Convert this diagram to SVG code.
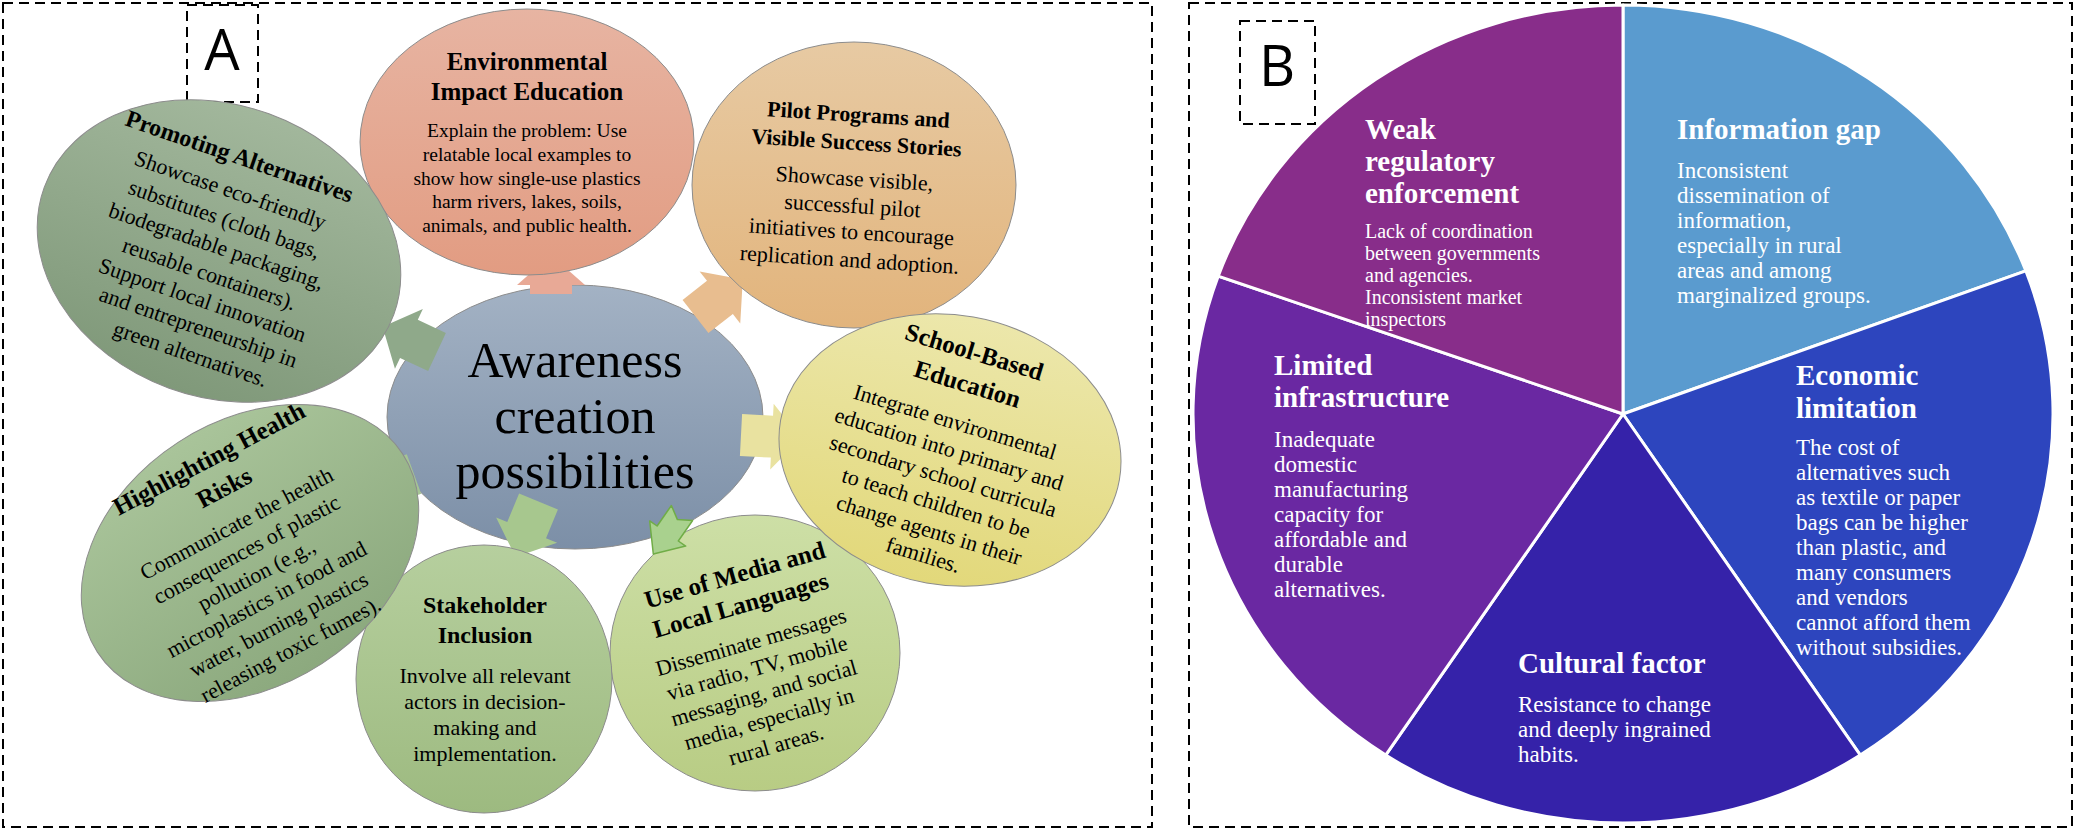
<svg xmlns="http://www.w3.org/2000/svg" width="2075" height="831" viewBox="0 0 2075 831">
<defs>
<style>
.f{font-family:"Liberation Serif","Times New Roman",serif;fill:#000;}
.h{font-weight:bold;}
.m{text-anchor:middle;}
.w{fill:#fff;}
.dash{fill:none;stroke:#000;stroke-width:2;stroke-dasharray:10 6;}
.lbl{font-family:"Open Sans","Liberation Sans",sans-serif;font-size:56px;fill:#000;text-anchor:middle;}
.node{stroke:#8c8c8c;stroke-width:1;}
.slice{stroke:#fff;stroke-width:3;stroke-linejoin:round;}
</style>
<linearGradient id="gCen" x1="0" y1="0" x2="0" y2="1"><stop offset="0" stop-color="#A3B2C4"/><stop offset="1" stop-color="#7C8FA7"/></linearGradient>
<linearGradient id="gEnv" x1="0" y1="0" x2="0" y2="1"><stop offset="0" stop-color="#E7B4A2"/><stop offset="1" stop-color="#E29C82"/></linearGradient>
<linearGradient id="gPil" x1="0" y1="0" x2="0" y2="1"><stop offset="0" stop-color="#E7CAA3"/><stop offset="1" stop-color="#E2B47C"/></linearGradient>
<linearGradient id="gSch" x1="0" y1="0" x2="0" y2="1"><stop offset="0" stop-color="#ECE7AB"/><stop offset="1" stop-color="#E2D87A"/></linearGradient>
<linearGradient id="gMed" x1="0" y1="0" x2="0" y2="1"><stop offset="0" stop-color="#CDDFA6"/><stop offset="1" stop-color="#B8CC84"/></linearGradient>
<linearGradient id="gSta" x1="0" y1="0" x2="0" y2="1"><stop offset="0" stop-color="#B6CF9E"/><stop offset="1" stop-color="#9DBA80"/></linearGradient>
<linearGradient id="gHig" x1="0" y1="0" x2="0" y2="1"><stop offset="0" stop-color="#A9C49A"/><stop offset="1" stop-color="#8CA97E"/></linearGradient>
<linearGradient id="gPro" x1="0" y1="0" x2="0" y2="1"><stop offset="0" stop-color="#A2B79C"/><stop offset="1" stop-color="#80997A"/></linearGradient>
<polygon id="arw" points="0,-21 31,-21 31,-33 60,0 31,33 31,21 0,21"/>
</defs>

<rect width="2075" height="831" fill="#fff"/>

<g id="panel-A-frame">
<rect class="dash" x="3" y="3" width="1149" height="824"/>
<rect class="dash" x="187" y="5" width="71" height="97"/>
<text class="lbl" x="222" y="70">A</text>
</g>

<g id="node-center">
<ellipse class="node" cx="575" cy="417" rx="188" ry="132" fill="url(#gCen)"/>
<text class="f m" font-size="50"><tspan x="575" y="377">Awareness</tspan><tspan x="575" y="433">creation</tspan><tspan x="575" y="488">possibilities</tspan></text>
</g>

<g id="node-media">
<ellipse class="node" cx="755" cy="653" rx="145" ry="138" fill="url(#gMed)"/>
<g class="f m">
<text class="h" font-size="25" transform="translate(737 583) rotate(-16)">Use of Media and</text>
<text class="h" font-size="25" transform="translate(743 613) rotate(-16)">Local Languages</text>
<text font-size="22" transform="translate(753 649) rotate(-16)">Disseminate messages</text>
<text font-size="22" transform="translate(759 675) rotate(-16)">via radio, TV, mobile</text>
<text font-size="22" transform="translate(766 700) rotate(-16)">messaging, and social</text>
<text font-size="22" transform="translate(771 726) rotate(-16)">media, especially in</text>
<text font-size="22" transform="translate(778 752) rotate(-16)">rural areas.</text>
</g>
</g>

<g id="connectors">
<polygon points="530,294 572,294 572,285 585,285 551,255 517,285 530,285" fill="#E8A996"/>
<use href="#arw" transform="translate(695.5 316.5) rotate(-38)" fill="#E8BD8F"/>
<use href="#arw" transform="translate(741 435) rotate(3)" fill="#E9E2A0"/>
<use href="#arw" transform="translate(538.5 501.5) rotate(112.5)" fill="#A7C78E"/>
<use href="#arw" transform="translate(414 474) rotate(160)" fill="#A5C394"/>
<use href="#arw" transform="translate(437 352) rotate(-155)" fill="#8FA98A"/>
<polygon points="671.4,505.5 677.4,519.6 692.6,520.5 678.3,541 685.7,546.1 653.3,554 649.7,520.9 657.1,526" fill="#A9D18E" stroke="#70AD47" stroke-width="1.5" stroke-linejoin="round"/>
</g>

<g id="node-environmental">
<ellipse class="node" cx="527" cy="142" rx="167" ry="133" fill="url(#gEnv)"/>
<text class="f m h" font-size="25"><tspan x="527" y="70">Environmental</tspan><tspan x="527" y="100">Impact Education</tspan></text>
<text class="f m" font-size="19.5"><tspan x="527" y="137">Explain the problem: Use</tspan><tspan x="527" y="161">relatable local examples to</tspan><tspan x="527" y="185">show how single-use plastics</tspan><tspan x="527" y="208">harm rivers, lakes, soils,</tspan><tspan x="527" y="232">animals, and public health.</tspan></text>
</g>

<g id="node-pilot">
<ellipse class="node" cx="854" cy="185" rx="162" ry="143" fill="url(#gPil)"/>
<g class="f m">
<text class="h" font-size="22" transform="translate(858 122) rotate(3.6)">Pilot Programs and</text>
<text class="h" font-size="22" transform="translate(856 150) rotate(3.6)">Visible Success Stories</text>
<text font-size="22" transform="translate(854 186) rotate(3.6)">Showcase visible,</text>
<text font-size="22" transform="translate(852 213) rotate(3.6)">successful pilot</text>
<text font-size="22" transform="translate(851 239) rotate(3.6)">initiatives to encourage</text>
<text font-size="22" transform="translate(849 267) rotate(3.6)">replication and adoption.</text>
</g>
</g>

<g id="node-school">
<ellipse class="node" cx="950" cy="450" rx="172" ry="135" transform="rotate(10 950 450)" fill="url(#gSch)"/>
<g class="f m">
<text class="h" font-size="25" transform="translate(972 360) rotate(17)">School-Based</text>
<text class="h" font-size="25" transform="translate(965 392) rotate(17)">Education</text>
<text font-size="22" transform="translate(953 429) rotate(17)">Integrate environmental</text>
<text font-size="22" transform="translate(947 456) rotate(17)">education into primary and</text>
<text font-size="22" transform="translate(941 483) rotate(17)">secondary school curricula</text>
<text font-size="22" transform="translate(934 510) rotate(17)">to teach children to be</text>
<text font-size="22" transform="translate(927 537) rotate(17)">change agents in their</text>
<text font-size="22" transform="translate(921 562) rotate(17)">families.</text>
</g>
</g>

<g id="node-stakeholder">
<ellipse class="node" cx="484" cy="679" rx="128" ry="134" fill="url(#gSta)"/>
<text class="f m h" font-size="24"><tspan x="485" y="613">Stakeholder</tspan><tspan x="485" y="643">Inclusion</tspan></text>
<text class="f m" font-size="22"><tspan x="485" y="683">Involve all relevant</tspan><tspan x="485" y="709">actors in decision-</tspan><tspan x="485" y="735">making and</tspan><tspan x="485" y="761">implementation.</tspan></text>
</g>

<g id="node-health">
<ellipse class="node" cx="250" cy="553" rx="182" ry="132" transform="rotate(-33 250 553)" fill="url(#gHig)"/>
<g class="f m">
<text class="h" font-size="25" transform="translate(213 466) rotate(-28)">Highlighting Health</text>
<text class="h" font-size="25" transform="translate(228 495) rotate(-28)">Risks</text>
<text font-size="22" transform="translate(240 530) rotate(-28)">Communicate the health</text>
<text font-size="22" transform="translate(250 556) rotate(-28)">consequences of plastic</text>
<text font-size="22" transform="translate(260 581) rotate(-28)">pollution (e.g.,</text>
<text font-size="22" transform="translate(270 606) rotate(-28)">microplastics in food and</text>
<text font-size="22" transform="translate(282 631) rotate(-28)">water, burning plastics</text>
<text font-size="22" transform="translate(294 656) rotate(-28)">releasing toxic fumes).</text>
</g>
</g>

<g id="node-alternatives">
<ellipse class="node" cx="219" cy="251" rx="186" ry="146" transform="rotate(20 219 251)" fill="url(#gPro)"/>
<g class="f m">
<text class="h" font-size="24" transform="translate(237 164) rotate(19)">Promoting Alternatives</text>
<text font-size="22" transform="translate(228 197) rotate(19)">Showcase eco-friendly</text>
<text font-size="22" transform="translate(222 226) rotate(19)">substitutes (cloth bags,</text>
<text font-size="22" transform="translate(214 253) rotate(19)">biodegradable packaging,</text>
<text font-size="22" transform="translate(207 281) rotate(19)">reusable containers).</text>
<text font-size="22" transform="translate(200 307) rotate(19)">Support local innovation</text>
<text font-size="22" transform="translate(196 334) rotate(19)">and entrepreneurship in</text>
<text font-size="22" transform="translate(188 361) rotate(19)">green alternatives.</text>
</g>
</g>

<g id="panel-B-frame">
<rect class="dash" x="1189" y="3" width="883" height="824"/>
</g>

<g id="slice-information">
<path class="slice" d="M1623,414 L1623,5 A430,409 0 0 1 2025.8,270.8 Z" fill="#5A9BCF"/>
<text class="f w h" font-size="29" x="1677" y="139">Information gap</text>
<text class="f w" font-size="23"><tspan x="1677" y="178">Inconsistent</tspan><tspan x="1677" y="203">dissemination of</tspan><tspan x="1677" y="228">information,</tspan><tspan x="1677" y="253">especially in rural</tspan><tspan x="1677" y="278">areas and among</tspan><tspan x="1677" y="303">marginalized groups.</tspan></text>
</g>

<g id="slice-economic">
<path class="slice" d="M1623,414 L2025.8,270.8 A430,409 0 0 1 1860.3,755.1 Z" fill="#2D45BE"/>
<text class="f w h" font-size="29"><tspan x="1796" y="385">Economic</tspan><tspan x="1796" y="418">limitation</tspan></text>
<text class="f w" font-size="23"><tspan x="1796" y="455">The cost of</tspan><tspan x="1796" y="480">alternatives such</tspan><tspan x="1796" y="505">as textile or paper</tspan><tspan x="1796" y="530">bags can be higher</tspan><tspan x="1796" y="555">than plastic, and</tspan><tspan x="1796" y="580">many consumers</tspan><tspan x="1796" y="605">and vendors</tspan><tspan x="1796" y="630">cannot afford them</tspan><tspan x="1796" y="655">without subsidies.</tspan></text>
</g>

<g id="slice-cultural">
<path class="slice" d="M1623,414 L1860.3,755.1 A430,409 0 0 1 1385.7,755.1 Z" fill="#3522A9"/>
<text class="f w h" font-size="29" x="1518" y="673">Cultural factor</text>
<text class="f w" font-size="23"><tspan x="1518" y="712">Resistance to change</tspan><tspan x="1518" y="737">and deeply ingrained</tspan><tspan x="1518" y="762">habits.</tspan></text>
</g>

<g id="slice-infrastructure">
<path class="slice" d="M1623,414 L1385.7,755.1 A430,409 0 0 1 1218.2,276.1 Z" fill="#6A28A2"/>
<text class="f w h" font-size="29"><tspan x="1274" y="375">Limited</tspan><tspan x="1274" y="407">infrastructure</tspan></text>
<text class="f w" font-size="23"><tspan x="1274" y="447">Inadequate</tspan><tspan x="1274" y="472">domestic</tspan><tspan x="1274" y="497">manufacturing</tspan><tspan x="1274" y="522">capacity for</tspan><tspan x="1274" y="547">affordable and</tspan><tspan x="1274" y="572">durable</tspan><tspan x="1274" y="597">alternatives.</tspan></text>
</g>

<g id="slice-regulatory">
<path class="slice" d="M1623,414 L1218.2,276.1 A430,409 0 0 1 1623,5 Z" fill="#882D8A"/>
<text class="f w h" font-size="29"><tspan x="1365" y="139">Weak</tspan><tspan x="1365" y="171">regulatory</tspan><tspan x="1365" y="203">enforcement</tspan></text>
<text class="f w" font-size="20"><tspan x="1365" y="238">Lack of coordination</tspan><tspan x="1365" y="260">between governments</tspan><tspan x="1365" y="282">and agencies.</tspan><tspan x="1365" y="304">Inconsistent market</tspan><tspan x="1365" y="326">inspectors</tspan></text>
</g>

<g id="label-B">
<rect class="dash" x="1240" y="21" width="75" height="103"/>
<text class="lbl" x="1277" y="86">B</text>
</g>
</svg>
